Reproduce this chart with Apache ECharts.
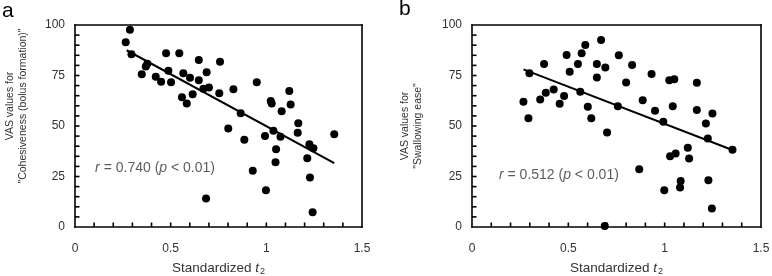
<!DOCTYPE html>
<html>
<head>
<meta charset="utf-8">
<script src="https://cdn.jsdelivr.net/npm/echarts@6/dist/echarts.min.js"></script>
<style>
html,body{margin:0;padding:0;background:#fff;}
#chart{width:772px;height:276px;}
</style>
</head>
<body>
<div id="chart"></div>
<script>
// panel a: standardized t2 vs VAS "Cohesiveness (bolus formation)"
const cohesivenessPts = [
  [0.265,91.4],[0.287,97.7],[0.295,85.5],[0.349,75.6],[0.37,79.5],[0.378,80.8],
  [0.422,74.4],[0.45,71.9],[0.476,86],[0.488,77.4],[0.502,71.6],[0.545,86],
  [0.566,76.1],[0.559,64.2],[0.584,61.2],[0.601,73.9],[0.615,65.7],[0.647,82.7],
  [0.647,72.6],[0.671,68.5],[0.688,76.6],[0.700,69],[0.685,14.1],[0.754,66.2],
  [0.758,81.8],[0.801,48.8],[0.828,68.2],[0.866,56.3],[0.885,43.2],[0.929,27.8],
  [0.95,71.6],[0.993,45.0],[0.998,18.2],[1.023,62.4],[1.028,61.2],[1.037,47.6],
  [1.051,38.5],[1.048,32.0],[1.074,44.7],[1.080,57.3],[1.120,67.3],[1.127,60.7],
  [1.167,51.4],[1.164,46.6],[1.214,34.0],[1.225,41.0],[1.228,24.5],[1.246,39.0],
  [1.242,7.3],[1.355,45.9]
];
const cohesivenessFit = [[0.27,87.5],[1.355,31.6]];

// panel b: standardized t2 vs VAS "Swallowing ease"
const swallowingPts = [
  [0.267,62.0],[0.293,53.8],[0.298,76.1],[0.374,80.7],[0.354,63.1],[0.383,66.5],
  [0.424,68.1],[0.455,61.0],[0.478,64.8],[0.491,85.1],[0.507,76.8],[0.550,80.7],
  [0.569,86.0],[0.562,66.9],[0.588,90.1],[0.601,59.5],[0.619,53.8],[0.648,80.7],
  [0.648,74.0],[0.670,92.6],[0.692,79.0],[0.701,46.8],[0.689,0.5],[0.762,85.0],
  [0.757,59.8],[0.800,71.5],[0.831,80.2],[0.868,28.6],[0.886,62.8],[0.932,75.7],
  [0.950,57.5],[0.993,52.1],[0.998,18.2],[1.024,72.7],[1.028,35.0],[1.050,73.2],
  [1.042,59.8],[1.057,36.4],[1.080,19.5],[1.083,22.8],[1.120,39.2],[1.127,33.9],
  [1.167,71.4],[1.167,57.9],[1.214,51.2],[1.224,43.8],[1.227,23.1],[1.248,56.2],
  [1.245,9.1],[1.352,38.3]
];
const swallowingFit = [[0.267,78],[1.355,38]];

// inner tick positions (every 0.1 on x, every 5 on y)
const xTicks = [0.1,0.2,0.3,0.4,0.5,0.6,0.7,0.8,0.9,1.0,1.1,1.2,1.3,1.4];
const yTicks = [5,10,15,20,25,30,35,40,45,50,55,60,65,70,75,80,85,90,95];
const xRange = [0, 1.5];
const yRange = [0, 100];

const panelLetters = ['a', 'b'];
const yNames = ['VAS values for\n"Cohesiveness (bolus formation)"', 'VAS values for\n"Swallowing ease"'];
const rTexts = ['{i|r} = 0.740 ({i|p} < 0.01)', '{i|r} = 0.512 ({i|p} < 0.01)'];
const rLabelAt = [[0.105, 29], [0.14, 25.7]];

const font = '"Liberation Sans", Arial, sans-serif';
const grids = [
  {left: 75, top: 25, width: 287, height: 202},
  {left: 472, top: 25, width: 289, height: 202}
];

const xAxes = grids.map((g, i) => ({
  type: 'value', gridIndex: i, min: xRange[0], max: xRange[1], interval: 0.5,
  name: '{n|Standardized }{t|t}{s|2}', nameLocation: 'middle', nameGap: 33,
  nameTextStyle: {
    rich: {
      n: {fontSize: 13.5, color: '#333', fontFamily: font},
      t: {fontSize: 13.5, color: '#333', fontFamily: font, fontStyle: 'italic'},
      s: {fontSize: 9, color: '#333', fontFamily: font, padding: [7, 0, 0, 1]}
    }
  },
  axisLine: {show: false}, axisTick: {show: false}, splitLine: {show: false},
  axisLabel: {fontSize: 12, color: '#333', fontFamily: font, margin: 16}
}));

const yAxes = grids.map((g, i) => ({
  type: 'value', gridIndex: i, min: yRange[0], max: yRange[1], interval: 25,
  name: yNames[i], nameLocation: 'middle', nameGap: i === 0 ? 46 : 48,
  nameTextStyle: {fontSize: 10.5, lineHeight: 12.5, color: '#333', fontFamily: font,
    padding: i === 0 ? [0, 0, 0, 40] : 0},
  axisLine: {show: false}, axisTick: {show: false}, splitLine: {show: false},
  axisLabel: {fontSize: 12, color: '#333', fontFamily: font, margin: 10}
}));

function panelSeries(i, pts, fit) {
  return [
    {type: 'scatter', xAxisIndex: i, yAxisIndex: i, data: pts, symbolSize: 8,
      itemStyle: {color: '#000', opacity: 1}, silent: true, z: 3},
    {type: 'line', xAxisIndex: i, yAxisIndex: i, data: fit, showSymbol: false,
      lineStyle: {color: '#000', width: 2}, silent: true, z: 2},
    {type: 'scatter', xAxisIndex: i, yAxisIndex: i, data: [rLabelAt[i]], symbolSize: 0,
      silent: true,
      label: {show: true, position: 'right', distance: 0, formatter: rTexts[i],
        fontSize: 14, color: '#333', fontFamily: font,
        rich: {i: {fontSize: 14, color: '#333', fontFamily: font, fontStyle: 'italic'}}}}
  ];
}

const letters = [
  {type: 'text', left: 2, top: 1, style: {text: panelLetters[0], fontSize: 21, fill: '#000', fontFamily: font}},
  {type: 'text', left: 399, top: -1, style: {text: panelLetters[1], fontSize: 21, fill: '#000', fontFamily: font}}
];

const chart = echarts.init(document.getElementById('chart'), null, {renderer: 'canvas'});
chart.setOption({
  animation: false,
  backgroundColor: '#fff',
  grid: grids.map(g => Object.assign({show: false, containLabel: false, outerBoundsMode: 'none'}, g)),
  xAxis: xAxes,
  yAxis: yAxes,
  graphic: letters,
  series: [
    ...panelSeries(0, cohesivenessPts, cohesivenessFit),
    ...panelSeries(1, swallowingPts, swallowingFit)
  ]
});

// frame and inward ticks, placed from the axis scales
function bar(x, y, w, h) {
  return {type: 'rect', silent: true, z: 100, shape: {x: x, y: y, width: w, height: h},
    style: {fill: '#000'}};
}
const frameEls = [];
grids.forEach((g, i) => {
  const toPx = v => chart.convertToPixel({gridIndex: i}, v);
  const p0 = toPx([xRange[0], yRange[0]]);
  const p1 = toPx([xRange[1], yRange[1]]);
  const w = 1.6;
  frameEls.push(bar(p0[0] - w / 2, p0[1] - w / 2, p1[0] - p0[0] + w, w));
  frameEls.push(bar(p0[0] - w / 2, p1[1] - w / 2, p1[0] - p0[0] + w, w));
  frameEls.push(bar(p0[0] - w / 2, p1[1] - w / 2, w, p0[1] - p1[1] + w));
  frameEls.push(bar(p1[0] - w / 2, p1[1] - w / 2, w, p0[1] - p1[1] + w));
  xTicks.forEach(v => {
    const p = toPx([v, yRange[0]]);
    frameEls.push(bar(p[0] - 0.8, p[1] - 4.5, 1.6, 4.5));
  });
  yTicks.forEach(v => {
    const p = toPx([xRange[0], v]);
    frameEls.push(bar(p[0], p[1] - 0.8, 4.5, 1.6));
  });
});
chart.setOption({graphic: letters.concat(frameEls)});
</script>
</body>
</html>
